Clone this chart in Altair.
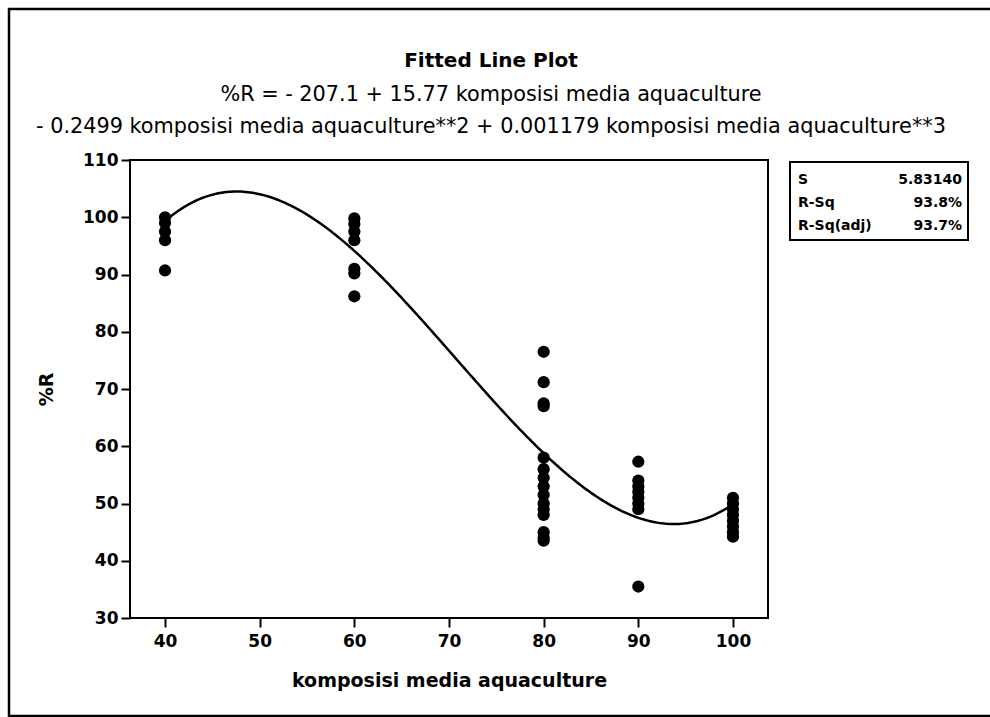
import altair as alt
import pandas as pd

# ---- data ----
x40 = [100.0, 99.0, 97.5, 96.0, 90.7]
x60 = [99.8, 98.8, 97.5, 96.0, 91.0, 90.2, 86.2]
x80 = [76.5, 71.2, 67.5, 67.0, 58.0, 56.0, 54.5, 53.0, 51.5, 50.0, 49.0, 48.0, 45.0, 44.0, 43.5]
x90 = [57.3, 54.0, 53.0, 52.0, 51.0, 50.0, 49.0, 35.5]
x100 = [51.0, 50.0, 49.0, 48.0, 47.0, 46.0, 45.0, 44.2]
groups = {40: x40, 60: x60, 80: x80, 90: x90, 100: x100}

# fitted cubic (coefficients shown in the chart's subtitle)
coef = [-207.1, 15.77, -0.2499, 0.001179]

x_ticks = [40, 50, 60, 70, 80, 90, 100]
y_ticks = [30, 40, 50, 60, 70, 80, 90, 100, 110]

stat_names = ["S", "R-Sq", "R-Sq(adj)"]
stat_values = ["5.83140", "93.8%", "93.7%"]

title_text = "Fitted Line Plot"
subtitle_lines = [
    "%R =  - 207.1 + 15.77 komposisi media aquaculture",
    "- 0.2499 komposisi media aquaculture**2 + 0.001179 komposisi media aquaculture**3",
]
x_title = "komposisi media aquaculture"
y_title = "%R"

rows = [{"x": k, "y": v} for k, vals in groups.items() for v in vals]
df = pd.DataFrame(rows)

FONT = "DejaVu Sans"
W, H = 638, 458
xscale = alt.Scale(domain=[36.3, 103.7], nice=False, zero=False)
yscale = alt.Scale(domain=[30, 110], nice=False, zero=False)

one = pd.DataFrame({"a": [0]})

points = alt.Chart(df).mark_circle(size=150, color="black", opacity=1).encode(
    x=alt.X("x:Q", scale=xscale, title=x_title,
            axis=alt.Axis(values=x_ticks, grid=False, domain=False)),
    y=alt.Y("y:Q", scale=yscale, title=y_title,
            axis=alt.Axis(values=y_ticks, grid=False, domain=False)),
)

expr = f"{coef[0]} + {coef[1]}*datum.x + ({coef[2]})*pow(datum.x,2) + {coef[3]}*pow(datum.x,3)"
curve = alt.Chart(alt.sequence(40, 100.25, 0.25, as_="x")).transform_calculate(
    yfit=expr
).mark_line(color="black", strokeWidth=2.5).encode(
    x=alt.X("x:Q", scale=xscale),
    y=alt.Y("yfit:Q", scale=yscale),
)

# stats box (outside plot area, right side)
box = alt.Chart(one).mark_rect(
    fill="white", stroke="black", strokeWidth=2
).encode(x=alt.value(660), x2=alt.value(838), y=alt.value(2), y2=alt.value(80))

stat_layers = []
for i, (n, v) in enumerate(zip(stat_names, stat_values)):
    yy = 20 + i * 23
    stat_layers.append(
        alt.Chart(one).mark_text(
            align="left", baseline="middle", font=FONT, fontWeight="bold", fontSize=14, color="black"
        ).encode(x=alt.value(668), y=alt.value(yy), text=alt.value(n))
    )
    stat_layers.append(
        alt.Chart(one).mark_text(
            align="right", baseline="middle", font=FONT, fontWeight="bold", fontSize=14,
            color="black"
        ).encode(x=alt.value(832), y=alt.value(yy), text=alt.value(v))
    )

# title and subtitle lines as text
title_layers = [
    alt.Chart(one).mark_text(
        align="center", baseline="middle", font=FONT, fontWeight="bold", fontSize=20, color="black"
    ).encode(x=alt.value(361), y=alt.value(-99), text=alt.value(title_text))
]
for i, line in enumerate(subtitle_lines):
    title_layers.append(
        alt.Chart(one).mark_text(
            align="center", baseline="middle", font=FONT, fontSize=20.8, color="black"
        ).encode(x=alt.value(361), y=alt.value(-65 + 32 * i), text=alt.value(line))
    )

frame = alt.Chart(one).mark_rect(
    fill=None, stroke="black", strokeWidth=2.5
).encode(x=alt.value(-121), x2=alt.value(870), y=alt.value(-151), y2=alt.value(556))

chart = alt.layer(frame, curve, points, box, *stat_layers, *title_layers).properties(
    width=W,
    height=H,
    background="white",
    autosize=alt.AutoSizeParams(type="none"),
    padding={"left": 130, "top": 160, "right": 222, "bottom": 99},
).configure_view(
    stroke="black", strokeWidth=2
).configure_axis(
    labelFont=FONT,
    labelFontSize=17,
    labelFontWeight="bold",
    labelColor="black",
    titleFont=FONT,
    titleFontSize=19,
    titleFontWeight="bold",
    titleColor="black",
    tickColor="black",
    tickWidth=2,
    tickSize=9,
).configure_axisX(titlePadding=22, labelPadding=6).configure_axisY(titlePadding=26, labelPadding=3)

chart.save("out.html", embed_options={"renderer": "svg", "actions": False})
